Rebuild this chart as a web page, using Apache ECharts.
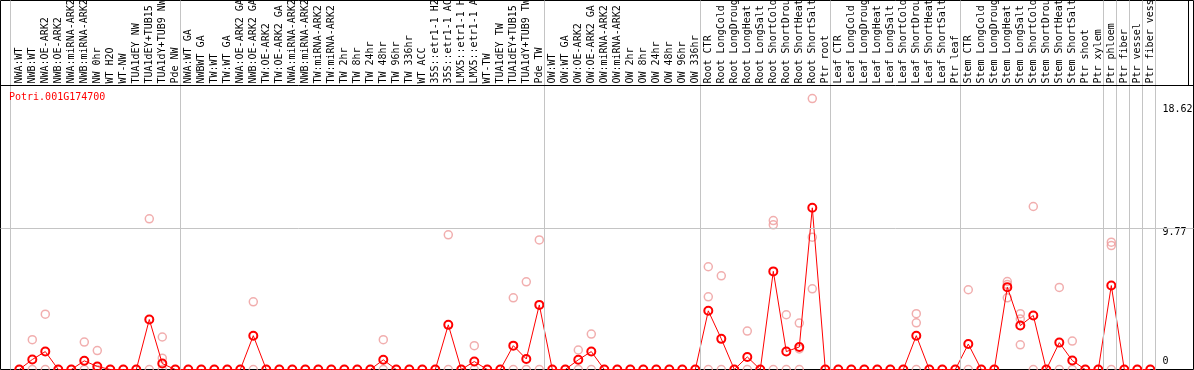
<!DOCTYPE html>
<html>
<head>
<meta charset="utf-8">
<script src="https://cdn.jsdelivr.net/npm/echarts@6/dist/echarts.min.js"></script>
<style>
html,body{margin:0;padding:0;background:#fff;}
#chart{width:1194px;height:370px;}
</style>
</head>
<body>
<div id="chart"></div>
<script>
const geneId = 'Potri.001G174700';

const categories = [
  'NWA:WT','NWB:WT','NWA:OE-ARK2','NWB:OE-ARK2','NWA:miRNA-ARK2','NWB:miRNA-ARK2','NW 0hr','WT H2O','WT-NW','TUA1dEY NW','TUA1dEY+TUB15 NW','TUA1dY+TUB9 NW','Pde NW',
  'NWA:WT GA','NWBWT GA','TW:WT','TW:WT GA','NWA:OE-ARK2 GA','NWB:OE-ARK2 GA','TW:OE-ARK2','TW:OE-ARK2 GA','NWA:miRNA-ARK2 GA','NWB:miRNA-ARK2 GA','TW:miRNA-ARK2','TW:miRNA-ARK2 GA',
  'TW 2hr','TW 8hr','TW 24hr','TW 48hr','TW 96hr','TW 336hr','WT ACC','35S::etr1-1 H2O','35S::etr1-1 ACC','LMX5::etr1-1 H2O','LMX5::etr1-1 ACC','WT-TW','TUA1dEY TW','TUA1dEY+TUB15 TW','TUA1dY+TUB9 TW','Pde TW',
  'OW:WT','OW:WT GA','OW:OE-ARK2','OW:OE-ARK2 GA','OW:miRNA-ARK2','OW:miRNA-ARK2 GA','OW 2hr','OW 8hr','OW 24hr','OW 48hr','OW 96hr','OW 336hr',
  'Root CTR','Root LongCold','Root LongDrought','Root LongHeat','Root LongSalt','Root ShortCold','Root ShortDrought','Root ShortHeat','Root ShortSalt','Ptr root',
  'Leaf CTR','Leaf LongCold','Leaf LongDrought','Leaf LongHeat','Leaf LongSalt','Leaf ShortCold','Leaf ShortDrought','Leaf ShortHeat','Leaf ShortSalt','Ptr leaf',
  'Stem CTR','Stem LongCold','Stem LongDrought','Stem LongHeat','Stem LongSalt','Stem ShortCold','Stem ShortDrought','Stem ShortHeat','Stem ShortSalt','Ptr shoot','Ptr xylem',
  'Ptr phloem','Ptr fiber','Ptr vessel','Ptr fiber vessel'
];

const means = [
  0, 0.69, 1.24, 0, 0, 0.60, 0.21, 0, 0, 0, 3.46, 0.41, 0,
  0, 0, 0, 0, 0, 2.34, 0, 0, 0, 0, 0, 0,
  0, 0, 0, 0.67, 0, 0, 0, 0, 3.09, 0, 0.55, 0, 0, 1.65, 0.73, 4.47,
  0, 0, 0.67, 1.24, 0, 0, 0, 0, 0, 0, 0, 0,
  4.06, 2.12, 0, 0.87, 0, 6.79, 1.24, 1.56, 11.19, 0,
  0, 0, 0, 0, 0, 0, 2.34, 0, 0, 0,
  1.76, 0, 0, 5.70, 3.04, 3.74, 0, 1.86, 0.62, 0, 0,
  5.81, 0, 0, 0
];

const replicates = [
  [0], [2.06, 0], [3.83, 0], [0], [0], [1.90, 0], [1.31, 0], [0], [0], [0], [10.43, 0], [2.25, 0.78, 0], [0],
  [0], [0], [0], [0], [0], [4.68, 0], [0], [0], [0], [0], [0], [0],
  [0], [0], [0], [2.06, 0], [0], [0], [0], [0], [9.32, 0], [0], [1.65, 0], [0], [0], [4.96, 0], [6.07, 0], [8.97, 0],
  [0], [0], [1.35, 0], [2.45, 0], [0], [0], [0], [0], [0], [0], [0], [0],
  [7.11, 5.03, 0], [6.48, 0], [0], [2.66, 0], [0], [10.31, 10.01, 0], [3.79, 0], [3.21, 1.42, 0], [18.75, 9.16, 5.58], [0],
  [0], [0], [0], [0], [0], [0], [3.86, 3.23, 0], [0], [0], [0],
  [5.52, 0], [0], [0], [6.09, 5.88, 4.96], [3.86, 3.50, 1.71], [11.28, 0], [0], [5.68, 0], [1.97, 0], [0], [0],
  [8.81, 8.58, 0], [0], [0], [0]
];

const yTickValues = [0, 9.77, 18.62];
const yTickLabels = ['0', '9.77', '18.62'];
const gridLineValue = 9.77;
// index of the last column of each group (separators drawn after them)
const groupEnds = [12, 40, 52, 62, 72, 83, 84, 85, 86, 87];

// ---- layout ----
const PX_PER_COL = 13, FIRST_COL_PX = 19.3, GRID_L = 0.5, GRID_R = 0.5;
const W = 1194 - GRID_L - GRID_R;
const xMin = -(FIRST_COL_PX - GRID_L) / PX_PER_COL;
const xMax = xMin + W / PX_PER_COL;
const PX_PER_UNIT = 14.45, GRID_T = 0.5, GRID_B = 0.5;
const H = 370 - GRID_T - GRID_B;
const yMax = H / PX_PER_UNIT;
const headerValue = (369.5 - 85.5) / PX_PER_UNIT;
const SEP_OFF = 0.4;

const mono = 'DejaVu Sans Mono';

const repData = [];
replicates.forEach((arr, i) => arr.forEach(v => repData.push([i, v])));
const meanData = means.map((v, i) => [i, v]);

const sepLines = [{xAxis: -0.677}].concat(groupEnds.map(e => ({xAxis: e + SEP_OFF})));

const chart = echarts.init(document.getElementById('chart'), null, {renderer: 'canvas'});
chart.setOption({
  animation: false,
  backgroundColor: '#fff',
  title: {
    text: geneId, left: 9, top: 92, padding: 0,
    textStyle: {color: '#ff0000', fontSize: 10, fontFamily: mono, fontWeight: 'normal'}
  },
  grid: {left: GRID_L, right: GRID_R, top: GRID_T, bottom: GRID_B, containLabel: false, outerBoundsMode: 'none',
         show: true, borderColor: '#000', borderWidth: 1, backgroundColor: '#fff'},
  xAxis: {
    type: 'value', min: xMin, max: xMax, position: 'top', offset: -85,
    axisLine: {show: false, onZero: false}, axisTick: {show: false}, splitLine: {show: false},
    axisLabel: {
      customValues: categories.map((c, i) => i),
      formatter: v => categories[Math.round(v)] || '',
      rotate: -90, margin: 2, fontSize: 10, fontFamily: mono, color: '#000',
      showMinLabel: true, showMaxLabel: true, hideOverlap: false
    }
  },
  yAxis: {
    type: 'value', min: 0, max: yMax, position: 'right',
    axisLine: {show: false}, axisTick: {show: false}, splitLine: {show: false},
    axisLabel: {
      customValues: yTickValues, inside: true, align: 'left', margin: 31,
      fontSize: 10, fontFamily: mono, color: '#000',
      formatter: v => {
        const k = yTickValues.indexOf(v);
        const s = yTickLabels[k];
        return k === 0 ? '{b|' + s + '}' : (k === 1 ? '{m|' + s + '}' : '{t|' + s + '}');
      },
      rich: {
        b: {fontSize: 10, fontFamily: mono, color: '#000', padding: [0, 0, 16, 0]},
        m: {fontSize: 10, fontFamily: mono, color: '#000', padding: [8, 0, 0, 0]},
        t: {fontSize: 10, fontFamily: mono, color: '#000', padding: [17, 0, 0, 0]}
      }
    }
  },
  series: [
    {
      type: 'scatter', name: 'replicates', data: repData, clip: false, z: 2,
      symbol: 'circle', symbolSize: 8,
      itemStyle: {color: 'rgba(255,255,255,0)', borderColor: '#ee9a9a', borderWidth: 1.5},
      markLine: {
        silent: true, symbol: 'none', label: {show: false}, animation: false,
        lineStyle: {type: 'solid', color: '#c4c4c4', width: 1},
        data: sepLines.concat([
          {yAxis: gridLineValue},
          {yAxis: headerValue, lineStyle: {color: '#000', width: 1}},
          [{coord: [89.94, headerValue], lineStyle: {color: '#000', width: 1}}, {coord: [89.94, yMax]}]
        ])
      }
    },
    {
      type: 'line', name: 'mean', data: meanData, clip: false, z: 3,
      showAllSymbol: true, symbol: 'circle', symbolSize: 8,
      lineStyle: {color: '#ff0000', width: 1},
      itemStyle: {color: 'rgba(255,255,255,0)', borderColor: '#ff0000', borderWidth: 2}
    }
  ]
});
</script>
</body>
</html>
